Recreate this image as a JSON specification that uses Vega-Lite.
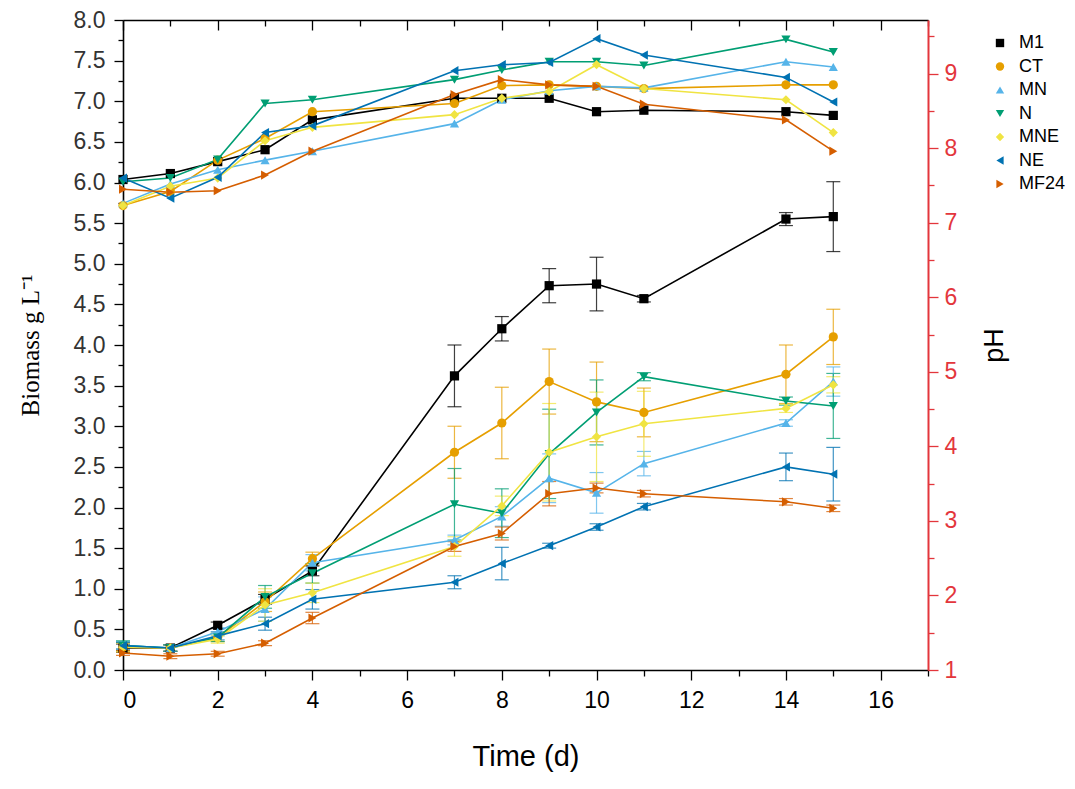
{
  "$schema": "https://vega.github.io/schema/vega-lite/v6.json",
  "width": 805,
  "height": 650,
  "autosize": "none",
  "padding": {"left": 123, "top": 20, "right": 147, "bottom": 119},
  "background": "white",
  "data": {
    "values": [
      {"s": "M1", "t": 0, "b": 0.27, "e": 0.05, "p": 7.58},
      {"s": "M1", "t": 1, "b": 0.27, "e": 0.04, "p": 7.66},
      {"s": "M1", "t": 2, "b": 0.55, "e": 0.04, "p": 7.82},
      {"s": "M1", "t": 3, "b": 0.87, "e": 0.06, "p": 7.98},
      {"s": "M1", "t": 4, "b": 1.22, "e": 0.06, "p": 8.38},
      {"s": "M1", "t": 7, "b": 3.62, "e": 0.38, "p": 8.67},
      {"s": "M1", "t": 8, "b": 4.2, "e": 0.15, "p": 8.67},
      {"s": "M1", "t": 9, "b": 4.73, "e": 0.21, "p": 8.67},
      {"s": "M1", "t": 10, "b": 4.75, "e": 0.33, "p": 8.49},
      {"s": "M1", "t": 11, "b": 4.57, "e": 0.04, "p": 8.51},
      {"s": "M1", "t": 14, "b": 5.55, "e": 0.08, "p": 8.49},
      {"s": "M1", "t": 15, "b": 5.58, "e": 0.43, "p": 8.44},
      {"s": "CT", "t": 0, "b": 0.28, "e": 0.06, "p": 7.23},
      {"s": "CT", "t": 1, "b": 0.27, "e": 0.04, "p": 7.42},
      {"s": "CT", "t": 2, "b": 0.4, "e": 0.05, "p": 7.84},
      {"s": "CT", "t": 3, "b": 0.84, "e": 0.12, "p": 8.13},
      {"s": "CT", "t": 4, "b": 1.37, "e": 0.08, "p": 8.49},
      {"s": "CT", "t": 7, "b": 2.68, "e": 0.32, "p": 8.6},
      {"s": "CT", "t": 8, "b": 3.04, "e": 0.44, "p": 8.84},
      {"s": "CT", "t": 9, "b": 3.55, "e": 0.4, "p": 8.85},
      {"s": "CT", "t": 10, "b": 3.3, "e": 0.49, "p": 8.83},
      {"s": "CT", "t": 11, "b": 3.17, "e": 0.3, "p": 8.8},
      {"s": "CT", "t": 14, "b": 3.64, "e": 0.36, "p": 8.85},
      {"s": "CT", "t": 15, "b": 4.1, "e": 0.34, "p": 8.85},
      {"s": "MN", "t": 0, "b": 0.3, "e": 0.05, "p": 7.26},
      {"s": "MN", "t": 1, "b": 0.27, "e": 0.04, "p": 7.52},
      {"s": "MN", "t": 2, "b": 0.47, "e": 0.05, "p": 7.71},
      {"s": "MN", "t": 3, "b": 0.75, "e": 0.15, "p": 7.84},
      {"s": "MN", "t": 4, "b": 1.32, "e": 0.1, "p": 7.96},
      {"s": "MN", "t": 7, "b": 1.6, "e": 0.06, "p": 8.33},
      {"s": "MN", "t": 8, "b": 1.89, "e": 0.12, "p": 8.65},
      {"s": "MN", "t": 9, "b": 2.36, "e": 0.3, "p": 8.77},
      {"s": "MN", "t": 10, "b": 2.18, "e": 0.25, "p": 8.83},
      {"s": "MN", "t": 11, "b": 2.54, "e": 0.15, "p": 8.81},
      {"s": "MN", "t": 14, "b": 3.04, "e": 0.04, "p": 9.16},
      {"s": "MN", "t": 15, "b": 3.55, "e": 0.18, "p": 9.09},
      {"s": "N", "t": 0, "b": 0.3, "e": 0.06, "p": 7.55},
      {"s": "N", "t": 1, "b": 0.27, "e": 0.04, "p": 7.6},
      {"s": "N", "t": 2, "b": 0.4, "e": 0.05, "p": 7.85},
      {"s": "N", "t": 3, "b": 0.9, "e": 0.14, "p": 8.6},
      {"s": "N", "t": 4, "b": 1.19, "e": 0.12, "p": 8.65},
      {"s": "N", "t": 7, "b": 2.04, "e": 0.44, "p": 8.92},
      {"s": "N", "t": 8, "b": 1.93, "e": 0.3, "p": 9.05},
      {"s": "N", "t": 9, "b": 2.66, "e": 0.55, "p": 9.16},
      {"s": "N", "t": 10, "b": 3.17, "e": 0.4, "p": 9.16},
      {"s": "N", "t": 11, "b": 3.61, "e": 0.05, "p": 9.11},
      {"s": "N", "t": 14, "b": 3.31, "e": 0.05, "p": 9.46},
      {"s": "N", "t": 15, "b": 3.25, "e": 0.4, "p": 9.29},
      {"s": "MNE", "t": 0, "b": 0.28, "e": 0.05, "p": 7.23},
      {"s": "MNE", "t": 1, "b": 0.27, "e": 0.04, "p": 7.49},
      {"s": "MNE", "t": 2, "b": 0.38, "e": 0.05, "p": 7.6},
      {"s": "MNE", "t": 3, "b": 0.8, "e": 0.2, "p": 8.1},
      {"s": "MNE", "t": 4, "b": 0.95, "e": 0.12, "p": 8.28},
      {"s": "MNE", "t": 7, "b": 1.52, "e": 0.12, "p": 8.45},
      {"s": "MNE", "t": 8, "b": 2.02, "e": 0.12, "p": 8.67},
      {"s": "MNE", "t": 9, "b": 2.68, "e": 0.6, "p": 8.76},
      {"s": "MNE", "t": 10, "b": 2.87, "e": 0.55, "p": 9.12},
      {"s": "MNE", "t": 11, "b": 3.03, "e": 0.4, "p": 8.8},
      {"s": "MNE", "t": 14, "b": 3.22, "e": 0.05, "p": 8.65},
      {"s": "MNE", "t": 15, "b": 3.51, "e": 0.1, "p": 8.21},
      {"s": "NE", "t": 0, "b": 0.3, "e": 0.04, "p": 7.6},
      {"s": "NE", "t": 1, "b": 0.27, "e": 0.04, "p": 7.33},
      {"s": "NE", "t": 2, "b": 0.42, "e": 0.05, "p": 7.61},
      {"s": "NE", "t": 3, "b": 0.57, "e": 0.08, "p": 8.21},
      {"s": "NE", "t": 4, "b": 0.87, "e": 0.12, "p": 8.3},
      {"s": "NE", "t": 7, "b": 1.08, "e": 0.08, "p": 9.04},
      {"s": "NE", "t": 8, "b": 1.31, "e": 0.2, "p": 9.12},
      {"s": "NE", "t": 9, "b": 1.53, "e": 0.03, "p": 9.15},
      {"s": "NE", "t": 10, "b": 1.76, "e": 0.04, "p": 9.47},
      {"s": "NE", "t": 11, "b": 2.01, "e": 0.04, "p": 9.25},
      {"s": "NE", "t": 14, "b": 2.5, "e": 0.17, "p": 8.95},
      {"s": "NE", "t": 15, "b": 2.41, "e": 0.33, "p": 8.62},
      {"s": "MF24", "t": 0, "b": 0.21, "e": 0.03, "p": 7.45},
      {"s": "MF24", "t": 1, "b": 0.17, "e": 0.03, "p": 7.41},
      {"s": "MF24", "t": 2, "b": 0.2, "e": 0.03, "p": 7.43},
      {"s": "MF24", "t": 3, "b": 0.33, "e": 0.03, "p": 7.64},
      {"s": "MF24", "t": 4, "b": 0.64, "e": 0.07, "p": 7.96},
      {"s": "MF24", "t": 7, "b": 1.52, "e": 0.06, "p": 8.72},
      {"s": "MF24", "t": 8, "b": 1.68, "e": 0.08, "p": 8.92},
      {"s": "MF24", "t": 9, "b": 2.17, "e": 0.15, "p": 8.85},
      {"s": "MF24", "t": 10, "b": 2.24, "e": 0.06, "p": 8.83},
      {"s": "MF24", "t": 11, "b": 2.17, "e": 0.04, "p": 8.59},
      {"s": "MF24", "t": 14, "b": 2.07, "e": 0.04, "p": 8.38},
      {"s": "MF24", "t": 15, "b": 1.99, "e": 0.04, "p": 7.96}
    ]
  },
  "layer": [
    {
      "encoding": {
        "x": {
          "field": "t",
          "type": "quantitative",
          "scale": {"domain": [0, 17], "nice": false},
          "axis": {
            "orient": "bottom",
            "title": "Time (d)",
            "titleFont": "Liberation Sans Narrow, Liberation Sans",
            "titleFontSize": 29,
            "titlePadding": 30,
            "labelFont": "Liberation Sans Narrow, Liberation Sans",
            "labelFontSize": 23,
            "labelColor": "black",
            "labelPadding": 9,
            "labelOverlap": false,
            "values": [0, 1, 2, 3, 4, 5, 6, 7, 8, 9, 10, 11, 12, 13, 14, 15, 16, 17],
            "labelExpr": "datum.value % 2 == 0 && datum.value < 17 ? datum.label : ''",
            "tickSize": {"condition": {"test": "datum.value % 2 == 0", "value": 10}, "value": 6}
          }
        },
        "y": {
          "field": "b",
          "type": "quantitative",
          "scale": {"domain": [0, 8], "nice": false},
          "axis": {
            "orient": "left",
            "title": "Biomass g L⁻¹",
            "titleFont": "Liberation Serif",
            "titleFontSize": 25,
            "titlePadding": 30,
            "labelFontSize": 23,
            "labelPadding": 9,
            "labelOverlap": false,
            "values": [0, 0.25, 0.5, 0.75, 1, 1.25, 1.5, 1.75, 2, 2.25, 2.5, 2.75, 3, 3.25, 3.5, 3.75, 4, 4.25, 4.5, 4.75, 5, 5.25, 5.5, 5.75, 6, 6.25, 6.5, 6.75, 7, 7.25, 7.5, 7.75, 8],
            "labelExpr": "round(datum.value * 2) == datum.value * 2 ? format(datum.value, '.1f') : ''",
            "tickSize": {"condition": {"test": "round(datum.value * 2) == datum.value * 2", "value": 9}, "value": 5}
          }
        },
        "color": {"field": "s", "type": "nominal", "scale": {"domain": ["M1", "CT", "MN", "N", "MNE", "NE", "MF24"], "range": ["#000000", "#E69F00", "#56B4E9", "#009E73", "#F0E442", "#0072B2", "#D55E00"]}},
        "shape": {"field": "s", "type": "nominal", "scale": {"domain": ["M1", "CT", "MN", "N", "MNE", "NE", "MF24"], "range": ["square", "circle", "triangle-up", "triangle-down", "diamond", "triangle-left", "triangle-right"]}}
      },
      "layer": [
        {
          "mark": {"type": "errorbar", "ticks": {"size": 14}, "thickness": 1.2, "opacity": 0.75},
          "encoding": {"yError": {"field": "e"}}
        },
        {
          "mark": {"type": "line", "strokeWidth": 1.6},
          "encoding": {"order": {"field": "t", "type": "quantitative"}}
        },
        {
          "mark": {"type": "point", "filled": true, "size": 85, "opacity": 1}
        }
      ]
    },
    {
      "encoding": {
        "x": {
          "field": "t",
          "type": "quantitative",
          "scale": {"domain": [0, 17], "nice": false},
          "axis": {
            "orient": "top",
            "title": null,
            "labels": false,
            "values": [0, 1, 2, 3, 4, 5, 6, 7, 8, 9, 10, 11, 12, 13, 14, 15, 16, 17],
            "tickSize": {"condition": {"test": "datum.value % 2 == 0", "value": -10}, "value": -6}
          }
        },
        "y": {
          "field": "p",
          "type": "quantitative",
          "scale": {"domain": [1, 9.72], "nice": false, "zero": false},
          "axis": {
            "orient": "right",
            "title": "pH",
            "titleFontSize": 27,
            "titleAngle": 270,
            "titlePadding": 52,
            "titleColor": "black",
            "domainColor": "#E3363C",
            "domainWidth": 2,
            "tickColor": "#E3363C",
            "labelColor": "#E3363C",
            "labelFontSize": 23,
            "labelPadding": 6,
            "labelOverlap": false,
            "values": [1, 1.5, 2, 2.5, 3, 3.5, 4, 4.5, 5, 5.5, 6, 6.5, 7, 7.5, 8, 8.5, 9, 9.5],
            "labelExpr": "round(datum.value) == datum.value ? format(datum.value, 'd') : ''",
            "tickSize": {"condition": {"test": "round(datum.value) == datum.value", "value": 10}, "value": 6}
          }
        },
        "color": {"field": "s", "type": "nominal", "scale": {"domain": ["M1", "CT", "MN", "N", "MNE", "NE", "MF24"], "range": ["#000000", "#E69F00", "#56B4E9", "#009E73", "#F0E442", "#0072B2", "#D55E00"]}},
        "shape": {"field": "s", "type": "nominal", "scale": {"domain": ["M1", "CT", "MN", "N", "MNE", "NE", "MF24"], "range": ["square", "circle", "triangle-up", "triangle-down", "diamond", "triangle-left", "triangle-right"]}}
      },
      "layer": [
        {
          "mark": {"type": "line", "strokeWidth": 1.6},
          "encoding": {"order": {"field": "t", "type": "quantitative"}}
        },
        {
          "mark": {"type": "point", "filled": true, "size": 85, "opacity": 1}
        }
      ]
    }
  ],
  "resolve": {"scale": {"y": "independent"}, "axis": {"x": "independent"}},
  "config": {
    "view": {"stroke": null},
    "font": "Liberation Sans",
    "axis": {
      "grid": false,
      "domainColor": "black",
      "domainWidth": 1.6,
      "tickColor": "black",
      "tickWidth": 1.3,
      "labelFont": "Liberation Sans",
      "labelColor": "#333333",
      "titleFont": "Liberation Sans",
      "titleFontWeight": "normal",
      "titleColor": "black"
    },
    "legend": {
      "orient": "none",
      "legendX": 868,
      "legendY": 14,
      "title": null,
      "labelFont": "Liberation Sans",
      "labelFontSize": 18,
      "labelColor": "black",
      "symbolSize": 70,
      "symbolOpacity": 1,
      "symbolStrokeWidth": 0,
      "rowPadding": 5.5,
      "labelOffset": 10
    }
  }
}
